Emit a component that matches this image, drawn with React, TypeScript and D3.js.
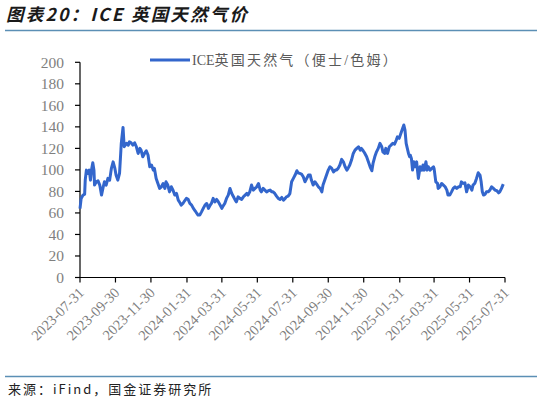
import React from "react";
import * as d3 from "d3";

const dates: string[] = [
  "2023-07-31","2023-08-02","2023-08-05","2023-08-08","2023-08-09","2023-08-11","2023-08-14","2023-08-16","2023-08-18","2023-08-20",
  "2023-08-22","2023-08-24","2023-08-25","2023-08-28","2023-08-31","2023-09-03","2023-09-06","2023-09-09","2023-09-11","2023-09-14",
  "2023-09-17","2023-09-20","2023-09-23","2023-09-26","2023-09-29","2023-10-01","2023-10-04","2023-10-07","2023-10-10","2023-10-13",
  "2023-10-15","2023-10-19","2023-10-22","2023-10-24","2023-10-27","2023-10-30","2023-11-02","2023-11-05","2023-11-08","2023-11-11",
  "2023-11-13","2023-11-16","2023-11-19","2023-11-22","2023-11-25","2023-11-28","2023-12-01","2023-12-04","2023-12-06","2023-12-09",
  "2023-12-12","2023-12-15","2023-12-18","2023-12-21","2023-12-24","2023-12-26","2023-12-29","2024-01-01","2024-01-04","2024-01-07",
  "2024-01-10","2024-01-13","2024-01-16","2024-01-18","2024-01-21","2024-01-24","2024-01-27","2024-01-30","2024-02-02","2024-02-05",
  "2024-02-08","2024-02-11","2024-02-14","2024-02-17","2024-02-19","2024-02-22","2024-02-25","2024-02-28","2024-03-02","2024-03-05",
  "2024-03-08","2024-03-11","2024-03-13","2024-03-16","2024-03-19","2024-03-22","2024-03-25","2024-03-28","2024-03-31","2024-04-02",
  "2024-04-05","2024-04-08","2024-04-11","2024-04-14","2024-04-17","2024-04-20","2024-04-23","2024-04-25","2024-04-28","2024-05-01",
  "2024-05-04","2024-05-07","2024-05-10","2024-05-13","2024-05-15","2024-05-18","2024-05-21","2024-05-24","2024-05-27","2024-05-30",
  "2024-06-02","2024-06-05","2024-06-07","2024-06-10","2024-06-13","2024-06-16","2024-06-19","2024-06-22","2024-06-25","2024-06-27",
  "2024-06-30","2024-07-03","2024-07-06","2024-07-09","2024-07-12","2024-07-15","2024-07-18","2024-07-20","2024-07-23","2024-07-26",
  "2024-07-29","2024-08-01","2024-08-04","2024-08-07","2024-08-09","2024-08-12","2024-08-15","2024-08-18","2024-08-21","2024-08-24",
  "2024-08-27","2024-08-30","2024-09-01","2024-09-04","2024-09-07","2024-09-10","2024-09-13","2024-09-16","2024-09-19","2024-09-21",
  "2024-09-24","2024-09-27","2024-09-30","2024-10-03","2024-10-06","2024-10-09","2024-10-12","2024-10-14","2024-10-17","2024-10-20",
  "2024-10-23","2024-10-26","2024-10-29","2024-11-01","2024-11-03","2024-11-06","2024-11-09","2024-11-12","2024-11-15","2024-11-18",
  "2024-11-21","2024-11-24","2024-11-26","2024-11-29","2024-12-02","2024-12-05","2024-12-08","2024-12-11","2024-12-14","2024-12-16",
  "2024-12-19","2024-12-22","2024-12-25","2024-12-28","2024-12-31","2025-01-02","2025-01-05","2025-01-07","2025-01-10","2025-01-13",
  "2025-01-16","2025-01-19","2025-01-22","2025-01-25","2025-01-27","2025-01-30","2025-02-02","2025-02-05","2025-02-07","2025-02-09",
  "2025-02-11","2025-02-13","2025-02-15","2025-02-17","2025-02-18","2025-02-20","2025-02-22","2025-02-24","2025-02-26","2025-03-01",
  "2025-03-04","2025-03-07","2025-03-10","2025-03-12","2025-03-14","2025-03-17","2025-03-19","2025-03-21","2025-03-24","2025-03-27",
  "2025-03-30","2025-03-31","2025-04-03","2025-04-06","2025-04-07","2025-04-10","2025-04-13","2025-04-16","2025-04-19","2025-04-22",
  "2025-04-24","2025-04-27","2025-04-30","2025-05-03","2025-05-06","2025-05-09","2025-05-12","2025-05-15","2025-05-17","2025-05-20",
  "2025-05-23","2025-05-26","2025-05-29","2025-06-01","2025-06-04","2025-06-06","2025-06-09","2025-06-12","2025-06-15","2025-06-18",
  "2025-06-20","2025-06-22","2025-06-24","2025-06-27","2025-06-29","2025-07-02","2025-07-05","2025-07-08","2025-07-11","2025-07-14",
  "2025-07-17","2025-07-20","2025-07-22","2025-07-25","2025-07-28",
];

const values: number[] = [
  64, 73.5, 76.5, 77.5, 90.5, 99.8, 96.7, 99.8, 90.5, 100.5,
  106.6, 99.8, 85.9, 89, 89.9, 85.9, 76.6, 84.3, 89, 85.9,
  92.1, 90.5, 101.4, 107.5, 101.4, 95.2, 90.5, 96.7, 124.7, 139.5,
  121.5, 124.7, 123, 126.1, 125.2, 123, 125.2, 121.5, 115.3, 120,
  118.4, 112.2, 115.3, 117.8, 113.8, 102.9, 104.5, 99.8, 101.4, 92.1,
  87.4, 82.8, 84.3, 87.4, 82.8, 88.9, 85.9, 79.6, 84.3, 81.2,
  76.6, 78.1, 71.9, 70.3, 67.3, 68.8, 71.3, 73.5, 72.6, 68.8,
  67.3, 64.2, 62, 59.5, 58, 58, 61, 64.2, 67.3, 68.8,
  64.2, 67.3, 68.8, 73.5, 70.3, 72.6, 70.3, 67.3, 64.2, 66.3,
  68.8, 73.5, 76.6, 82.8, 78.1, 75, 71.9, 70.3, 75, 73.5,
  72.6, 75, 76.6, 78.1, 76.6, 79.6, 85.9, 81.2, 82.8, 84.3,
  87.4, 81.2, 79.6, 82.8, 81.2, 79.6, 80.6, 81.2, 79.6, 79.6,
  78.1, 75.6, 73.5, 72.6, 74.4, 71.9, 73.5, 75, 75.6, 78,
  89, 92.1, 95.2, 99.2, 97.3, 96.7, 96.1, 93.6, 89, 92.1,
  95.2, 95.2, 90.5, 85.9, 89, 86.8, 84.3, 82.8, 79.6, 85.9,
  90.5, 95.2, 99.8, 102.9, 101.4, 98.2, 99.8, 99.8, 101.4, 104.5,
  109.8, 107.5, 102.9, 99.8, 101.4, 104.5, 109.1, 115.3, 118.4, 120,
  121.5, 118.4, 120, 117.8, 115.3, 112.2, 107.5, 102.9, 99.2, 106,
  112.2, 116.8, 120, 124.7, 121.5, 116.8, 115.3, 120, 115.3, 121.5,
  123, 124.7, 124, 127.7, 130.7, 129.3, 134, 138.6, 141.7, 137,
  124.7, 120, 115.3, 112.2, 113.8, 110.7, 99.8, 107.5, 102.9, 107.5,
  92.1, 102.9, 99.8, 104.5, 99.8, 107.5, 99.8, 102.9, 99.8, 101.4,
  102.9, 101.4, 88.9, 87.4, 82.8, 84.3, 87.4, 85.9, 84.3, 81.2,
  76.6, 76.6, 79.6, 82.8, 84.3, 82.8, 84.3, 84.3, 88.9, 87.4,
  88, 79.6, 85.9, 84.3, 81.2, 85.9, 87.4, 92.1, 97.3, 95.2,
  88.9, 79.6, 76.6, 77.5, 79.6, 79.6, 81.2, 84.3, 82.8, 81.2,
  80.6, 78.7, 79.6, 82.8, 86.8,
];

const tickLabels: string[] = [
  "2023-07-31","2023-09-30","2023-11-30","2024-01-31","2024-03-31","2024-05-31","2024-07-31",
  "2024-09-30","2024-11-30","2025-01-31","2025-03-31","2025-05-31","2025-07-31",
];
const yTicks: number[] = [0, 20, 40, 60, 80, 100, 120, 140, 160, 180, 200];

const title = "图表20：ICE 英国天然气价";
const seriesPrefix = "ICE";
const seriesRest = "英国天然气（便士/色姆）";
const source = "来源：iFind，国金证券研究所";

const W = 542, H = 403;
const plot = { left: 80, right: 505, top: 62.3, bottom: 277.5 };
const parse = d3.timeParse("%Y-%m-%d");

export default function App() {
  const x = d3
    .scaleTime()
    .domain([parse("2023-07-31")!, parse("2025-07-31")!])
    .range([plot.left, plot.right]);
  const y = d3.scaleLinear().domain([0, 200]).range([plot.bottom, plot.top]);
  const pts = dates.map((d, i) => [parse(d)!, values[i]] as [Date, number]);
  const line = d3
    .line<[Date, number]>()
    .x((d) => x(d[0]))
    .y((d) => y(d[1]));
  const serif = "'Liberation Serif', 'Times New Roman', 'Noto Sans CJK SC', serif";
  const lineColor = "#3366cc";
  const accent = "#5b8fb5";

  return (
    <svg
      width={W}
      height={H}
      viewBox={`0 0 ${W} ${H}`}
      style={{ position: "absolute", left: 0, top: 0, background: "#fff" }}
    >
      <text
        x={6}
        y={21}
        fontFamily="'Noto Sans CJK SC', sans-serif"
        fontWeight="bold"
        fontStyle="italic"
        fontSize={17.5}
        letterSpacing={2.2}
        fill="#1a1a1a"
      >
        {title}
      </text>
      <line x1={5} x2={537} y1={30.5} y2={30.5} stroke={accent} strokeWidth={1.3} />

      {/* legend */}
      <line x1={150} x2={190} y1={60} y2={60} stroke={lineColor} strokeWidth={3} />
      <text x={192} y={64.5} fontFamily={serif} fontSize={14} fill="#595959">
        <tspan>{seriesPrefix}</tspan>
        <tspan letterSpacing={2.2}>{seriesRest}</tspan>
      </text>

      {/* y axis */}
      <line x1={plot.left} x2={plot.left} y1={plot.top} y2={plot.bottom} stroke="#000" strokeWidth={1.2} />
      {yTicks.map((t) => (
        <g key={t}>
          <line x1={plot.left - 5} x2={plot.left} y1={y(t)} y2={y(t)} stroke="#000" strokeWidth={1.2} />
          <text
            x={64}
            y={y(t)}
            dy="0.35em"
            textAnchor="end"
            fontFamily={serif}
            fontSize={15.5}
            fill="#7f7f7f"
          >
            {t}
          </text>
        </g>
      ))}

      {/* x axis */}
      <line x1={plot.left} x2={plot.right} y1={plot.bottom} y2={plot.bottom} stroke="#000" strokeWidth={1.2} />
      {tickLabels.map((lbl) => {
        const tx = x(parse(lbl)!);
        return (
          <g key={lbl}>
            <line x1={tx} x2={tx} y1={plot.bottom} y2={plot.bottom + 5} stroke="#000" strokeWidth={1.2} />
            <text
              transform={`translate(${tx + 5},${plot.bottom + 16}) rotate(-45)`}
              textAnchor="end"
              fontFamily={serif}
              fontSize={14.5}
              fill="#7f7f7f"
            >
              {lbl}
            </text>
          </g>
        );
      })}

      <path d={line(pts) ?? ""} fill="none" stroke={lineColor} strokeWidth={3} strokeLinejoin="round" />

      <line x1={5} x2={537} y1={376.5} y2={376.5} stroke={accent} strokeWidth={1.3} />
      <text
        x={8}
        y={394}
        fontFamily="'Noto Sans CJK SC', sans-serif"
        fontSize={13}
        letterSpacing={2}
        fill="#222"
      >
        {source}
      </text>
    </svg>
  );
}
